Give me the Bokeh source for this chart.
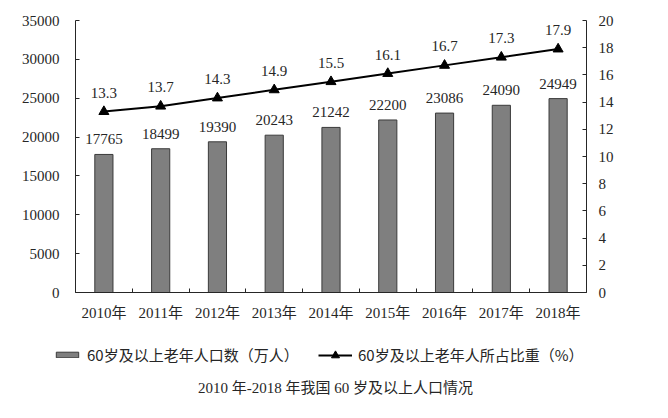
from bokeh.plotting import figure
from bokeh.models import (LinearAxis, Range1d, FixedTicker, Legend, LegendItem,
                          ColumnDataSource, Label)
from bokeh.core.properties import value
from bokeh.embed import file_html
from bokeh.resources import INLINE

years = ["2010年", "2011年", "2012年", "2013年", "2014年", "2015年", "2016年", "2017年", "2018年"]
population = [17765, 18499, 19390, 20243, 21242, 22200, 23086, 24090, 24949]
ratio = [13.3, 13.7, 14.3, 14.9, 15.5, 16.1, 16.7, 17.3, 17.9]
left_ticks = [0, 5000, 10000, 15000, 20000, 25000, 30000, 35000]
right_ticks = [0, 2, 4, 6, 8, 10, 12, 14, 16, 18, 20]
LEFT_MAX = 35000
RIGHT_MAX = 20

bar_name = "60岁及以上老年人口数（万人）"
line_name = "60岁及以上老年人所占比重（%）"
title_text = "2010 年-2018 年我国 60 岁及以上人口情况"

xs = list(range(1, len(years) + 1))
src = ColumnDataSource(dict(
    x=xs, pop=population, ratio=ratio,
    pop_lbl=[str(v) for v in population],
    ratio_lbl=[f"{v:.1f}" for v in ratio],
))

SERIF = "Liberation Serif, Noto Sans CJK SC"
SANS = "Noto Sans CJK SC"
TXT = "#262626"
AX = "#262626"
BAR_FILL = "#7f7f7f"
BAR_LINE = "#3a3a3a"

# canvas and plot-area layout (pixels)
W, H = 652, 400
PL, PR, PT, PB = 75, 586, 20, 292
n = len(years)
ppx = (PR - PL) / n
x_lo, x_hi = 0.5, n + 0.5
x_start = x_lo - PL / ppx
x_end = x_hi + (W - PR) / ppx
span = PB - PT
y_start = -(H - PB) / span * LEFT_MAX
y_end = LEFT_MAX + PT / span * LEFT_MAX
r_start = -(H - PB) / span * RIGHT_MAX
r_end = RIGHT_MAX + PT / span * RIGHT_MAX

p = figure(width=W, height=H, output_backend="svg", toolbar_location=None,
           x_range=Range1d(x_start, x_end), y_range=Range1d(y_start, y_end),
           min_border=0, x_axis_type=None, y_axis_type=None)
p.extra_y_ranges = {"r": Range1d(r_start, r_end)}
p.outline_line_color = None
p.background_fill_color = "white"
p.border_fill_color = "white"

# bottom axis
xa = LinearAxis(fixed_location=0, bounds=(x_lo, x_hi),
                ticker=FixedTicker(ticks=xs, minor_ticks=[x + 0.5 for x in [0] + xs]))
xa.major_label_overrides = {x: y for x, y in zip(xs, years)}
xa.major_tick_line_color = None
xa.minor_tick_in = 4
xa.minor_tick_out = 0
xa.minor_tick_line_color = AX
xa.axis_line_color = AX
xa.major_label_text_font = SERIF
xa.major_label_text_font_size = "15px"
xa.major_label_text_color = TXT
xa.major_label_standoff = 6
p.add_layout(xa, "below")

# left axis
ya = LinearAxis(fixed_location=x_lo, bounds=(0, LEFT_MAX),
                ticker=FixedTicker(ticks=left_ticks))
ya.major_tick_in = 4
ya.major_tick_out = 0
ya.minor_tick_line_color = None
ya.axis_line_color = AX
ya.major_tick_line_color = AX
ya.major_label_text_font = SERIF
ya.major_label_text_font_size = "15px"
ya.major_label_text_color = TXT
ya.major_label_standoff = 16
p.add_layout(ya, "left")

# right axis
ra = LinearAxis(y_range_name="r", fixed_location=x_hi, bounds=(0, RIGHT_MAX),
                ticker=FixedTicker(ticks=right_ticks))
ra.major_tick_in = 4
ra.major_tick_out = 0
ra.minor_tick_line_color = None
ra.axis_line_color = AX
ra.major_tick_line_color = AX
ra.major_label_text_font = SERIF
ra.major_label_text_font_size = "15px"
ra.major_label_text_color = TXT
ra.major_label_standoff = 12
p.add_layout(ra, "right")

bars = p.vbar(x="x", top="pop", width=0.32, source=src,
              fill_color=BAR_FILL, line_color=BAR_LINE, line_width=1)
ln = p.line(x="x", y="ratio", source=src, y_range_name="r",
            line_color="black", line_width=2)
mk = p.scatter(x="x", y="ratio", source=src, y_range_name="r",
               marker="triangle", size=10, fill_color="black", line_color="black")

p.text(x="x", y="pop", text="pop_lbl", source=src, text_align="center",
       text_baseline="middle", y_offset=-15, text_font=value("Liberation Serif"),
       text_font_size=value("15px"), text_color=TXT)
p.text(x="x", y="ratio", text="ratio_lbl", source=src, y_range_name="r",
       text_align="center", text_baseline="middle", y_offset=-19,
       text_font=value("Liberation Serif"), text_font_size=value("15px"),
       text_color=TXT)

common = dict(orientation="horizontal", label_height=20, label_standoff=6,
              padding=0, margin=0, border_line_color=None,
              background_fill_alpha=0, label_text_font=SANS,
              label_text_font_size="15px", label_text_color=TXT)
leg1 = Legend(items=[LegendItem(label=bar_name, renderers=[bars])],
              location=(53, 35), glyph_width=28, glyph_height=7, **common)
leg2 = Legend(items=[LegendItem(label=line_name, renderers=[ln, mk])],
              location=(318, 35), glyph_width=34, glyph_height=20, **common)
p.add_layout(leg1, "center")
p.add_layout(leg2, "center")

p.add_layout(Label(x=335, y=13, x_units="screen", y_units="screen",
                   text=title_text, text_align="center", text_baseline="middle",
                   text_font=SERIF, text_font_size="15px", text_color=TXT))

open("out.html", "w").write(file_html(p, INLINE))
